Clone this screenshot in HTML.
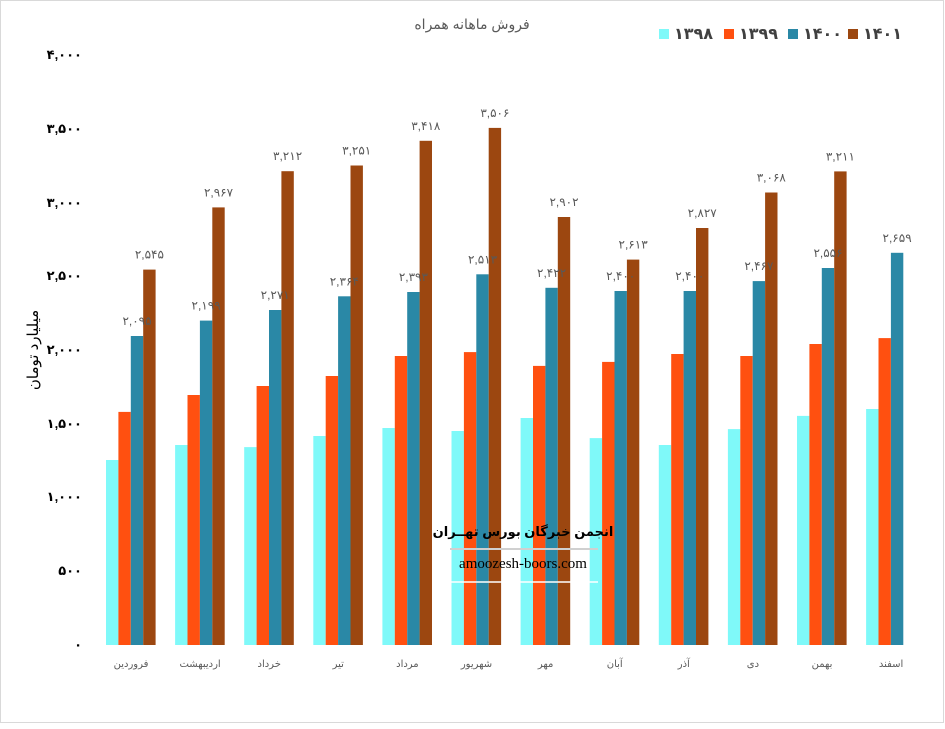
<!DOCTYPE html>
<html><head><meta charset="utf-8"><style>
body{margin:0;background:#fff;}
svg text{font-family:"Liberation Sans","DejaVu Sans","Noto Sans CJK SC",sans-serif;}
</style></head><body>
<svg width="945" height="724" xmlns="http://www.w3.org/2000/svg">
<rect x="0.5" y="0.5" width="943" height="722" fill="#fff" stroke="#d9d9d9"/>
<text x="472" y="29" font-size="14" fill="#595959" text-anchor="middle">فروش ماهانه همراه</text>
<g font-size="16" font-weight="bold" fill="#404040">
<rect x="659" y="29" width="10" height="10" fill="#7ff9f9"/><text x="674" y="39">۱۳۹۸</text>
<rect x="724" y="29" width="10" height="10" fill="#ff5010"/><text x="739" y="39">۱۳۹۹</text>
<rect x="788" y="29" width="10" height="10" fill="#2a88a6"/><text x="803" y="39">۱۴۰۰</text>
<rect x="848" y="29" width="10" height="10" fill="#9c4710"/><text x="863" y="39">۱۴۰۱</text>
</g>
<g font-size="13" font-weight="bold" fill="#000" text-anchor="end">
<text x="82" y="649">۰</text>
<text x="82" y="575">۵۰۰</text>
<text x="82" y="501">۱,۰۰۰</text>
<text x="82" y="428">۱,۵۰۰</text>
<text x="82" y="354">۲,۰۰۰</text>
<text x="82" y="280">۲,۵۰۰</text>
<text x="82" y="207">۳,۰۰۰</text>
<text x="82" y="133">۳,۵۰۰</text>
<text x="82" y="59">۴,۰۰۰</text>
</g>
<text transform="translate(38,350) rotate(-90)" font-size="15" fill="#000" text-anchor="middle">میلیارد تومان</text>
<g transform="translate(0,645) scale(1,-1)">
<g fill="#7ff9f9">
<rect x="106" y="0" width="12.4" height="185"/><rect x="175.1" y="0" width="12.4" height="200"/><rect x="244.2" y="0" width="12.4" height="197.9"/><rect x="313.3" y="0" width="12.4" height="209"/><rect x="382.4" y="0" width="12.4" height="217"/><rect x="451.5" y="0" width="12.4" height="214"/><rect x="520.6" y="0" width="12.4" height="227"/><rect x="589.7" y="0" width="12.4" height="206.9"/><rect x="658.8" y="0" width="12.4" height="200"/><rect x="727.9" y="0" width="12.4" height="215.9"/><rect x="797" y="0" width="12.4" height="229.1"/><rect x="866.1" y="0" width="12.4" height="236"/>
</g>
<g fill="#ff5010">
<rect x="118.4" y="0" width="12.4" height="233.1"/><rect x="187.5" y="0" width="12.4" height="250"/><rect x="256.6" y="0" width="12.4" height="259"/><rect x="325.7" y="0" width="12.4" height="269"/><rect x="394.8" y="0" width="12.4" height="289"/><rect x="463.9" y="0" width="12.4" height="292.9"/><rect x="533" y="0" width="12.4" height="279.1"/><rect x="602.1" y="0" width="12.4" height="283.1"/><rect x="671.2" y="0" width="12.4" height="291"/><rect x="740.3" y="0" width="12.4" height="289"/><rect x="809.4" y="0" width="12.4" height="301"/><rect x="878.5" y="0" width="12.4" height="306.9"/>
</g>
<g fill="#2a88a6">
<rect x="130.8" y="0" width="12.4" height="309"/><rect x="199.9" y="0" width="12.4" height="324.4"/><rect x="269" y="0" width="12.4" height="335"/><rect x="338.1" y="0" width="12.4" height="348.7"/><rect x="407.2" y="0" width="12.4" height="353"/><rect x="476.3" y="0" width="12.4" height="370.7"/><rect x="545.4" y="0" width="12.4" height="357.2"/><rect x="614.5" y="0" width="12.4" height="354"/><rect x="683.6" y="0" width="12.4" height="354"/><rect x="752.7" y="0" width="12.4" height="363.9"/><rect x="821.8" y="0" width="12.4" height="377"/><rect x="890.9" y="0" width="12.4" height="392.2"/>
</g>
<g fill="#9c4710">
<rect x="143.2" y="0" width="12.4" height="375.4"/><rect x="212.3" y="0" width="12.4" height="437.6"/><rect x="281.4" y="0" width="12.4" height="473.8"/><rect x="350.5" y="0" width="12.4" height="479.5"/><rect x="419.6" y="0" width="12.4" height="504.2"/><rect x="488.7" y="0" width="12.4" height="517.1"/><rect x="557.8" y="0" width="12.4" height="428"/><rect x="626.9" y="0" width="12.4" height="385.4"/><rect x="696" y="0" width="12.4" height="417"/><rect x="765.1" y="0" width="12.4" height="452.5"/><rect x="834.2" y="0" width="12.4" height="473.6"/>
</g>
</g>
<g font-size="12" fill="#595959" text-anchor="middle">
<text x="137" y="325">۲,۰۹۵</text><text x="206.1" y="309.6">۲,۱۹۹</text><text x="275.2" y="299">۲,۲۷۱</text><text x="344.3" y="285.3">۲,۳۶۴</text><text x="413.4" y="281">۲,۳۹۳</text><text x="482.5" y="263.3">۲,۵۱۳</text><text x="551.6" y="276.8">۲,۴۲۲</text><text x="620.7" y="280">۲,۴۰۰</text><text x="689.8" y="280">۲,۴۰۰</text><text x="758.9" y="270.1">۲,۴۶۷</text><text x="828" y="257">۲,۵۵۶</text><text x="897.1" y="241.8">۲,۶۵۹</text>
<text x="149.4" y="258.6">۲,۵۴۵</text><text x="218.5" y="196.4">۲,۹۶۷</text><text x="287.6" y="160.2">۳,۲۱۲</text><text x="356.7" y="154.5">۳,۲۵۱</text><text x="425.8" y="129.8">۳,۴۱۸</text><text x="494.9" y="116.9">۳,۵۰۶</text><text x="564" y="206">۲,۹۰۲</text><text x="633.1" y="248.6">۲,۶۱۳</text><text x="702.2" y="217">۲,۸۲۷</text><text x="771.3" y="181.5">۳,۰۶۸</text><text x="840.4" y="160.4">۳,۲۱۱</text>
</g>
<g font-size="10" fill="#595959" text-anchor="middle">
<text x="131" y="667">فروردین</text><text x="200.1" y="667">اردیبهشت</text><text x="269.2" y="667">خرداد</text><text x="338.3" y="667">تیر</text><text x="407.4" y="667">مرداد</text><text x="476.5" y="667">شهریور</text><text x="545.6" y="667">مهر</text><text x="614.7" y="667">آبان</text><text x="683.8" y="667">آذر</text><text x="752.9" y="667">دی</text><text x="822" y="667">بهمن</text><text x="891.1" y="667">اسفند</text>
</g>
<text x="523" y="536" font-size="13" font-weight="bold" fill="#000" text-anchor="middle">انجمن خبرگان بورس تهــران</text>
<line x1="450" y1="549" x2="598" y2="549" stroke="#d0d0d0" stroke-width="2"/>
<text x="523" y="568" font-size="15" fill="#000" text-anchor="middle" style="font-family:'Liberation Serif',serif">amoozesh-boors.com</text>
<line x1="450" y1="582" x2="598" y2="582" stroke="#fff" stroke-width="1.5"/>
</svg>
</body></html>
